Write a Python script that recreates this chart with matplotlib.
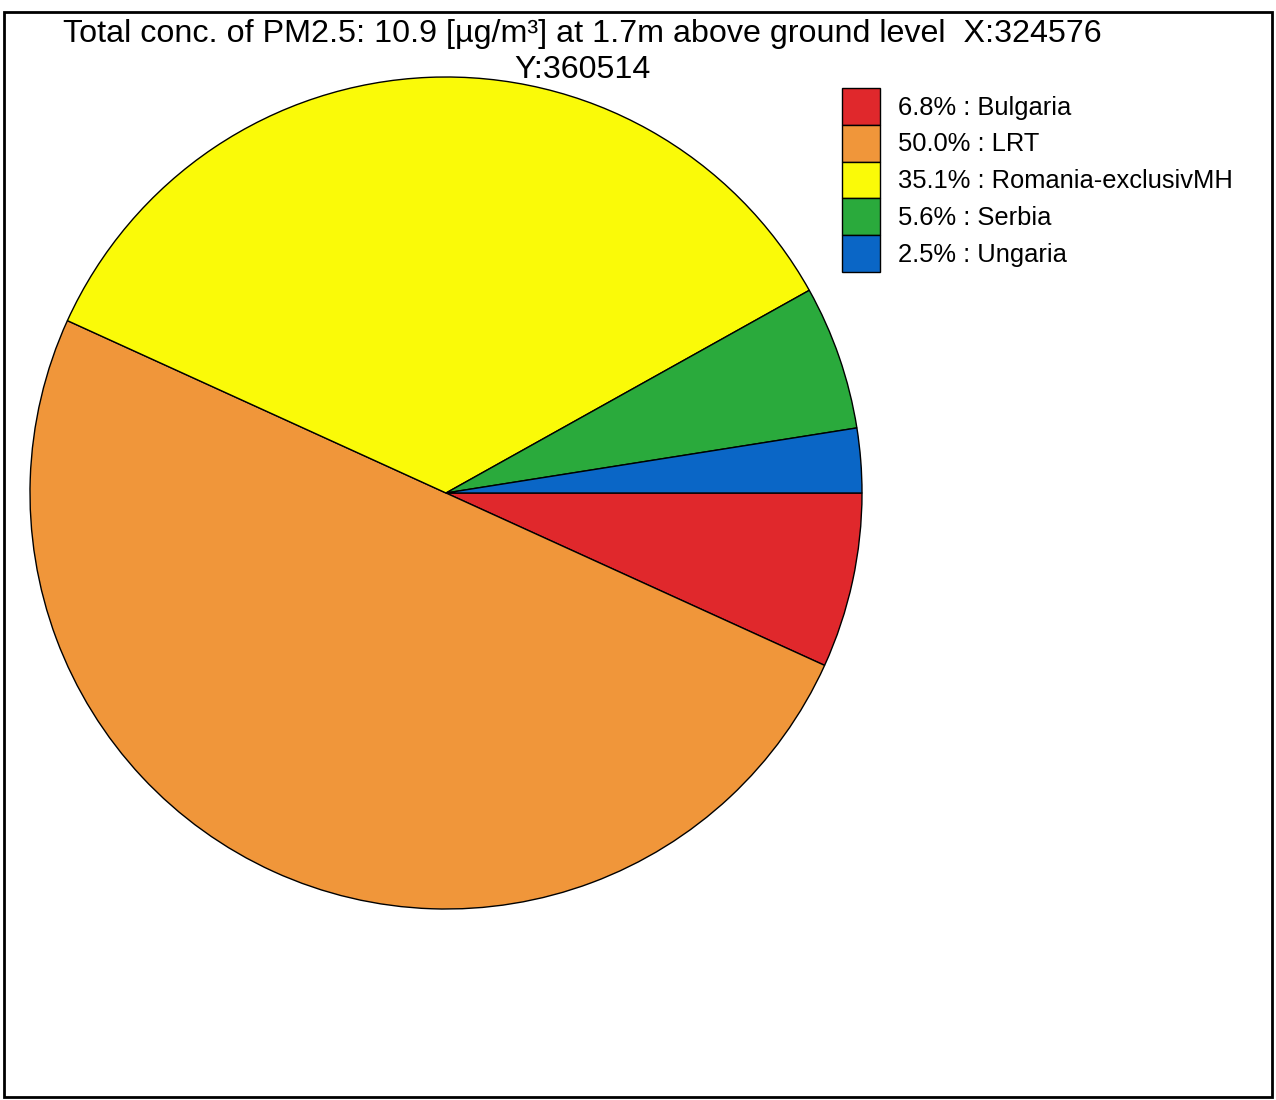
import matplotlib.pyplot as plt
from matplotlib.patches import Rectangle

plt.rcParams['font.family'] = ['Liberation Sans', 'DejaVu Sans']

# data
sources = ['Bulgaria', 'LRT', 'Romania-exclusivMH', 'Serbia', 'Ungaria']
shares = [6.8, 50.0, 35.1, 5.6, 2.5]
colors = ['#e0282c', '#f0963a', '#fafa08', '#2aaa3c', '#0a66c6']
title = 'Total conc. of PM2.5: 10.9 [µg/m³] at 1.7m above ground level  X:324576\nY:360514'

W, H = 1276, 1100
fig = plt.figure(figsize=(W / 100, H / 100), dpi=100)

# pie centre and radius in pixels
cx, cy, r = 446, 493, 416
ax = fig.add_axes([(cx - r) / W, (H - cy - r) / H, 2 * r / W, 2 * r / H])
wedges, _ = ax.pie(shares, colors=colors, startangle=0, counterclock=False,
                   wedgeprops=dict(edgecolor='black', linewidth=1.0))
ax.set_xlim(-1, 1)
ax.set_ylim(-1, 1)
ax.set_aspect('equal')

labels = ['%.1f%% : %s' % (s, n) for s, n in zip(shares, sources)]
fig.legend(wedges, labels, loc='upper left', bbox_to_anchor=(842 / W, 1 - 88 / H),
           frameon=False, fontsize=18.4, handlelength=1.49, handleheight=1.84,
           labelspacing=0.0, handletextpad=0.7, borderpad=0, borderaxespad=0)

fig.text(582 / W, 1 - 19 / H, title, ha='center', va='top', fontsize=23.2, linespacing=1.25)

# outer frame
fig.patches.append(Rectangle((4 / W, 3 / H), 1268 / W, 1085 / H, transform=fig.transFigure,
                             fill=False, edgecolor='black', linewidth=2))

fig.savefig('out.png', dpi=100, facecolor='white')
